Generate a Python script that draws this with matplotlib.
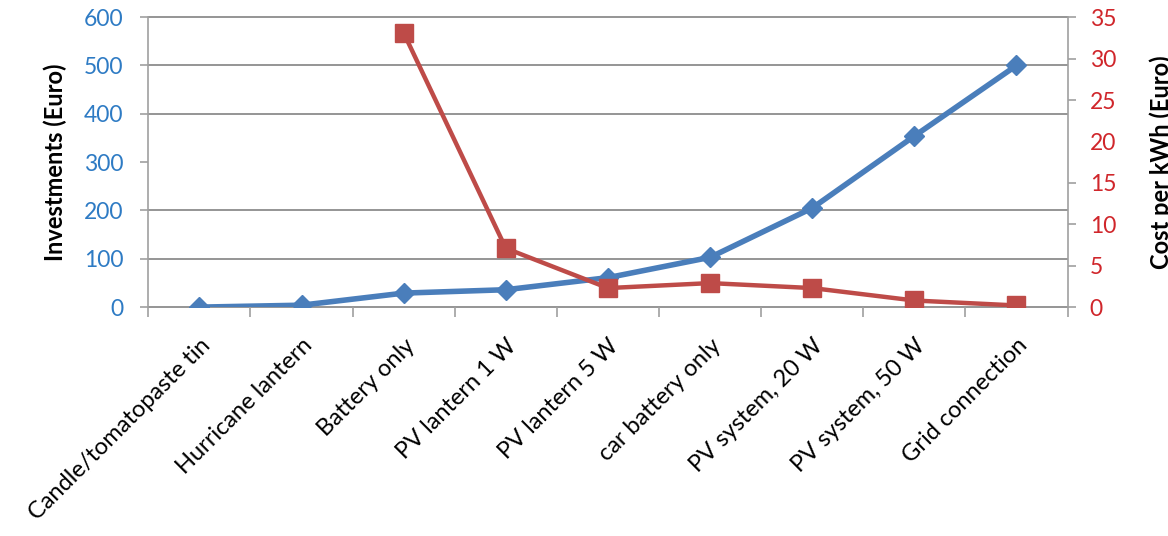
import matplotlib.pyplot as plt
import numpy as np

plt.rcParams['font.family'] = ['Lato', 'DejaVu Sans']

categories = ["Candle/tomatopaste tin", "Hurricane lantern", "Battery only",
              "PV lantern 1 W", "PV lantern 5 W", "car battery only",
              "PV system, 20 W", "PV system, 50 W", "Grid connection"]
investments = [0, 4, 29, 36, 61, 103, 205, 354, 500]
cost_kwh = [np.nan, np.nan, 33.1, 7.1, 2.3, 2.9, 2.3, 0.8, 0.2]
grid_levels = [0, 100, 200, 400, 500, 600]

blue = '#4A7EBB'
red = '#BE4B48'
grey = '#A0A0A0'

fig = plt.figure(figsize=(11.68, 5.36), dpi=100)
ax = fig.add_axes([0.127, 0.427, 0.787, 0.541])
ax2 = ax.twinx()

x = np.arange(len(categories))
ax.set_xlim(-0.5, len(categories) - 0.5)
ax.set_ylim(0, 600)
ax2.set_ylim(0, 35)

# horizontal grid (no line at 300 in this chart)
ax.hlines(grid_levels, -0.5, len(categories) - 0.5, color='#8C8C8C', lw=1.3,
          zorder=1, clip_on=False)

ax.plot(x, investments, color=blue, lw=4, marker='D', ms=10, zorder=3)
ax2.plot(x, cost_kwh, color=red, lw=3.2, marker='s', ms=13, zorder=3)

ax.set_yticks(np.arange(0, 601, 100))
ax2.set_yticks(np.arange(0, 36, 5))

# category ticks sit between the categories
ax.set_xticks(x)
ax.set_xticklabels(categories, rotation=45, ha='right', rotation_mode='anchor',
                   fontsize=17)
ax.set_xticks(np.arange(-0.5, len(categories), 1), minor=True)
ax.tick_params(axis='x', which='major', length=0, pad=20)
ax.tick_params(axis='x', which='minor', length=7, color=grey, width=1.2)

ax.tick_params(axis='y', labelsize=16.5, labelcolor='#2E7BC4', length=6,
               color=grey, width=1.2, pad=12)
ax2.tick_params(axis='y', labelsize=16.5, labelcolor='#D0262B', length=6,
                color=grey, width=1.2, pad=10)
ax2.yaxis.get_major_ticks()[4].tick2line.set_visible(False)

for a in (ax, ax2):
    for s in a.spines.values():
        s.set_visible(False)
ax.spines['left'].set_visible(True)
ax.spines['left'].set_color(grey)
ax.spines['left'].set_linewidth(1.2)
ax2.spines['right'].set_visible(True)
ax2.spines['right'].set_color(grey)
ax2.spines['right'].set_linewidth(1.2)

ax.set_ylabel('Investments (Euro)', fontsize=17, fontweight='bold', labelpad=12)
ax2.set_ylabel('Cost per kWh (Euro)', fontsize=17, fontweight='bold', labelpad=24)

fig.savefig('out.png', dpi=100)
